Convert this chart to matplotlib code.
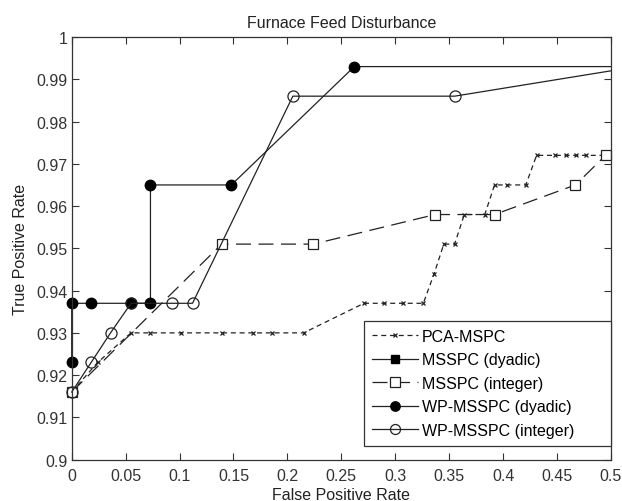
import matplotlib
matplotlib.use('Agg')
import matplotlib.pyplot as plt
from matplotlib.ticker import FuncFormatter

plt.rcParams['font.family'] = ['Liberation Sans', 'DejaVu Sans']

# PCA-MSPC
pca_fpr = [0, 0.024, 0.055, 0.073, 0.101, 0.139, 0.168, 0.186, 0.215,
           0.271, 0.290, 0.307, 0.326, 0.336, 0.345, 0.355, 0.364, 0.383,
           0.392, 0.404, 0.421, 0.431, 0.448, 0.458, 0.468, 0.477, 0.495]
pca_tpr = [0.916, 0.923, 0.930, 0.930, 0.930, 0.930, 0.930, 0.930, 0.930,
           0.937, 0.937, 0.937, 0.937, 0.944, 0.951, 0.951, 0.958, 0.958,
           0.965, 0.965, 0.965, 0.972, 0.972, 0.972, 0.972, 0.972, 0.972]

# MSSPC (dyadic) - not visible in the plotted range
msspc_dy_fpr = []
msspc_dy_tpr = []

# MSSPC (integer)
msspc_int_fpr = [0, 0.139, 0.224, 0.337, 0.392, 0.467, 0.495]
msspc_int_tpr = [0.916, 0.951, 0.951, 0.958, 0.958, 0.965, 0.972]

# WP-MSSPC (dyadic); last point is where the curve leaves the axes
wp_dy_fpr = [0, 0, 0.018, 0.055, 0.073, 0.073, 0.148, 0.262, 0.5]
wp_dy_tpr = [0.923, 0.937, 0.937, 0.937, 0.937, 0.965, 0.965, 0.993, 0.993]

# WP-MSSPC (integer)
wp_int_fpr = [0, 0.018, 0.036, 0.055, 0.093, 0.112, 0.205, 0.355, 0.5]
wp_int_tpr = [0.916, 0.923, 0.930, 0.937, 0.937, 0.937, 0.986, 0.986, 0.992]

fs = 11.5
fig = plt.figure(figsize=(6.22, 5.02), dpi=100)
ax = fig.add_axes([0.1153, 0.0823, 0.867, 0.842])

lc = '#222222'
ax.plot(pca_fpr, pca_tpr, linestyle=(0, (4, 3)), color=lc, lw=0.9,
        marker='x', ms=3.5, mew=0.9, label='PCA-MSPC', clip_on=False)
ax.plot(msspc_dy_fpr, msspc_dy_tpr, '-', color=lc, lw=0.9, marker='s', ms=7,
        mfc='black', mec='black', label='MSSPC (dyadic)')
ax.plot(msspc_int_fpr, msspc_int_tpr, linestyle=(0, (12, 6)), color=lc, lw=0.9,
        marker='s', ms=7.5, mfc='white', mec=lc, mew=0.9,
        label='MSSPC (integer)', clip_on=False)
ax.plot(wp_dy_fpr, wp_dy_tpr, '-', color=lc, lw=0.9, marker='o', ms=7.5,
        mfc='black', mec='black', markevery=slice(0, -1),
        label='WP-MSSPC (dyadic)', clip_on=False)
ax.plot(wp_int_fpr, wp_int_tpr, '-', color=lc, lw=0.9, marker='o', ms=8,
        mfc='none', mec=lc, mew=0.9, markevery=slice(0, -1),
        label='WP-MSSPC (integer)', clip_on=False)

ax.set_xlim(0, 0.5)
ax.set_ylim(0.9, 1.0)
ax.set_xticks([i * 0.05 for i in range(11)])
ax.set_yticks([0.9 + i * 0.01 for i in range(11)])
ax.xaxis.set_major_formatter(FuncFormatter(lambda v, p: '%g' % round(v, 3)))
ax.yaxis.set_major_formatter(FuncFormatter(lambda v, p: '%g' % round(v, 3)))
ax.tick_params(direction='in', top=True, right=True, length=5, labelsize=fs,
               colors='#333333', pad=3)
ax.tick_params(axis='x', pad=6)
for s in ax.spines.values():
    s.set_color('#333333')
    s.set_linewidth(0.9)

ax.set_xlabel('False Positive Rate', fontsize=fs, labelpad=3, color='#222222')
ax.set_ylabel('True Positive Rate', fontsize=fs, labelpad=6, color='#222222')
ax.set_title('Furnace Feed Disturbance', fontsize=fs, pad=7, color='#222222')

leg = ax.legend(loc='lower left', bbox_to_anchor=(0.542, 0.033, 0.458, 0.2),
                mode='expand', fontsize=fs, fancybox=False, framealpha=1,
                edgecolor='#333333', borderaxespad=0, handlelength=2.9,
                labelspacing=0.53, handletextpad=0.2, borderpad=0.5,
                markerscale=0.9)
leg.get_frame().set_linewidth(0.9)

plt.savefig('out.png', dpi=100)
